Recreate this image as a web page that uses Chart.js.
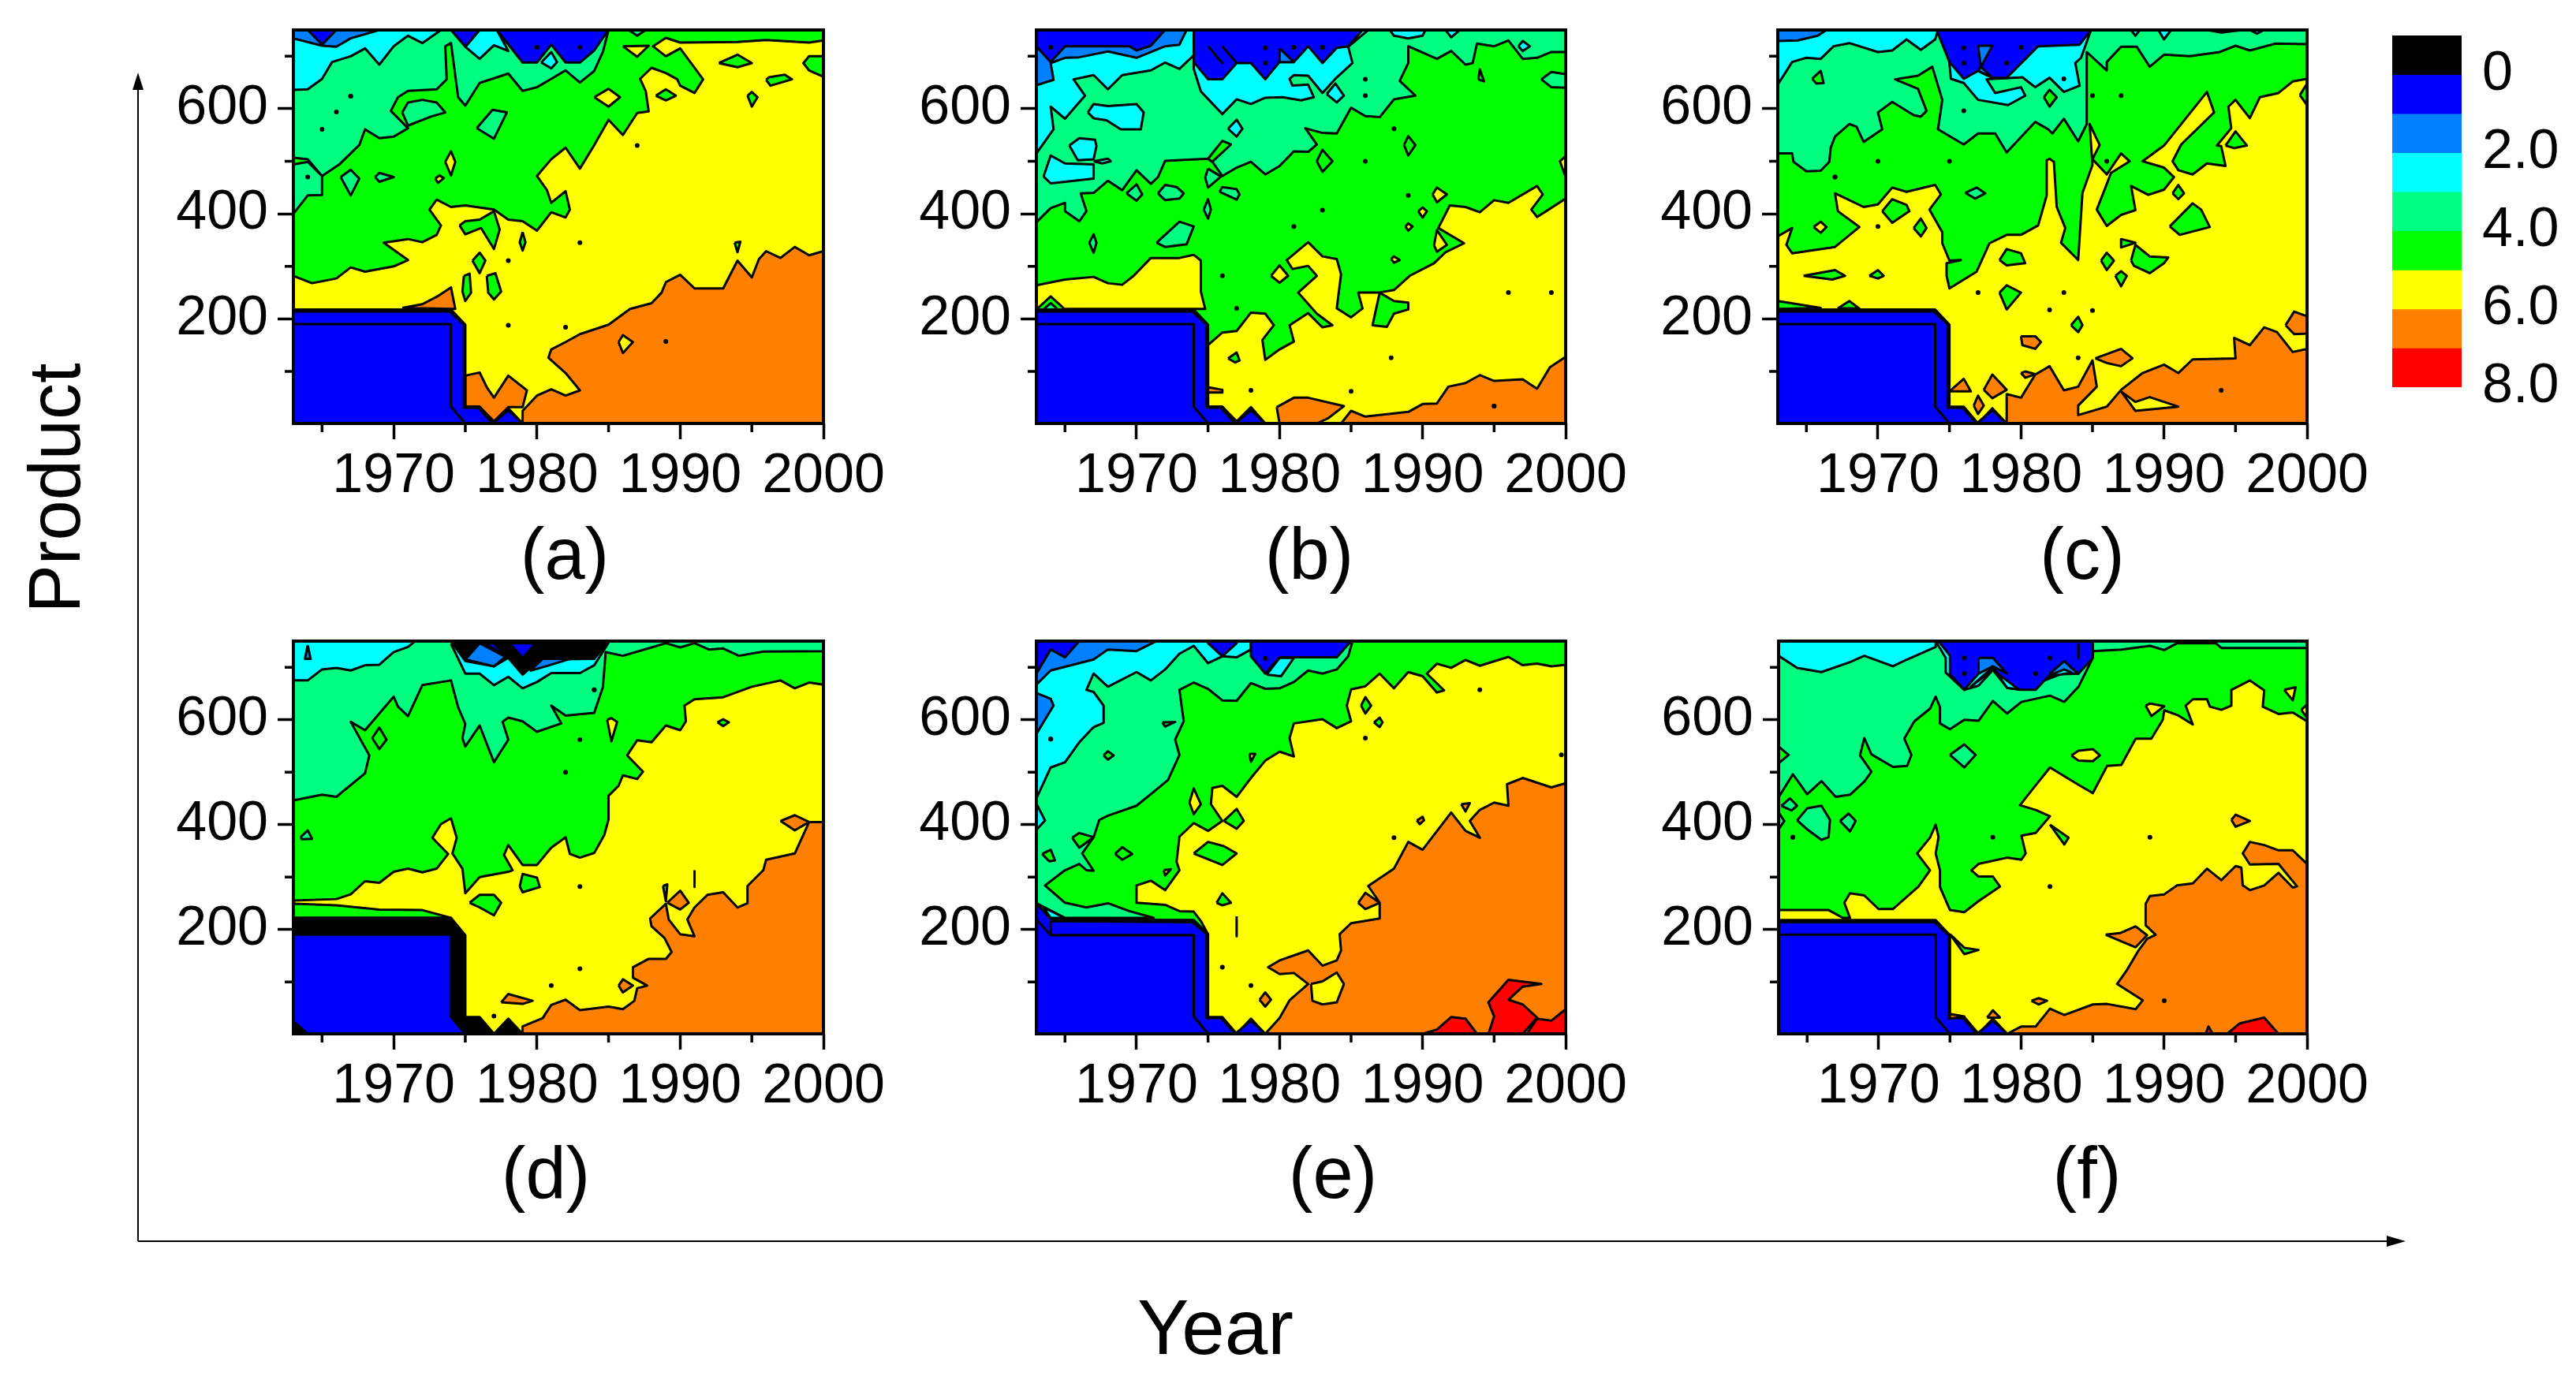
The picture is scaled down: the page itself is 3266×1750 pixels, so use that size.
<!DOCTYPE html>
<html>
<head>
<meta charset="utf-8">
<title>Product / Year contour panels</title>
<script src="https://cdn.jsdelivr.net/npm/chart.js@4"></script>
<style>
  html, body { margin: 0; background: #fff; }
  #page { position: relative; width: 3266px; height: 1750px; overflow: hidden; font-family: "Liberation Sans", Arial, sans-serif; color: #000; }
  #page canvas { position: absolute; }
  .lbl { position: absolute; transform: translate(-50%, -50%); white-space: nowrap; line-height: 1; }
  .panel-lbl { font-size: 92px; }
  .axis-lbl { font-size: 92px; }
  #arrows { position: absolute; left: 0; top: 0; }
</style>
</head>
<body>
<div id="page">
  <svg id="arrows" width="3266" height="1750">
    <path d="M175 1574 V100 M175 1574 H3040" stroke="#000" stroke-width="2" fill="none"/>
    <path d="M175 92 L168 114 H182 Z M3050 1574 L3026 1567 V1581 Z" fill="#000"/>
  </svg>
  <div class="lbl axis-lbl" style="left:69px;top:619px;transform:translate(-50%,-50%) rotate(-90deg)">Product</div>
  <div class="lbl axis-lbl" style="left:1541px;top:1683px;font-size:98px">Year</div>
</div>
<script>
// Escala de color (z): una banda por nivel
const LEVEL_COLORS = ['#000000', '#0000ff', '#0080ff', '#00ffff', '#00ff80', '#00ff00', '#ffff00', '#ff8000', '#ff0000'];
const LEGEND_TICKS = [0, 2, 4, 6, 8];

const YEAR_MIN = 1963, YEAR_MAX = 2000, PRODUCT_MIN = 1, PRODUCT_MAX = 750;
const YEAR_TICKS = [1970, 1980, 1990, 2000];
const YEAR_MINOR = [1965, 1975, 1985, 1995];
const PRODUCT_TICKS = [200, 400, 600];
const PRODUCT_MINOR = [100, 300, 500, 700];

const fullFrame = [1963,1, 2000,1, 2000,750, 1963,750];

// Zona sin datos (compartida por los paneles)
const blockOuter = [1963,218, 1974,218, 1975,189, 1975,33, 1976,33, 1977,1, 1978,30, 1979,1, 1963,1];
const blockEdge = [1963,214, 1973.9,214, 1974.9,189, 1974.9,31, 1975.9,31, 1976.9,1, 1978,26, 1979,1, 1963,1];
const blockInner = [1963,190, 1974,190, 1974,33, 1975,1, 1963,1];

/* ============================
        PANEL (a)  [nivel, x,y, x,y...]
============================ */
const bandsA = [
  [6, fullFrame],
  [5, [1963,282, 1964.3,268, 1966,277, 1967,298, 1968,290, 1970,300, 1971,312, 1969.3,345, 1971,352, 1972,346, 1973,360, 1973.3,378, 1972.5,408, 1973,427, 1974,413, 1975,416, 1977,408, 1978,389, 1979,386, 1980,368, 1981,403, 1982,393, 1982.3,408, 1982,443, 1981,421, 1980.7,445, 1980,472, 1981,504, 1982,526, 1983,486, 1984,531, 1985,579, 1986,550, 1987,592, 1987.8,595, 1987.6,633, 1987.2,657, 1988,678, 1989,668, 1989.8,656, 1990,644, 1991,630, 1991.6,656, 1990,715, 1989,700, 1988.1,719, 1989,735, 1990,726, 1994,727, 1996,731, 1999,726, 2000,730, 2000,750, 1963,750]],
  [4, [1963,400, 1964,435, 1965,436, 1965,472, 1966.2,494, 1967.6,531, 1968,561, 1969,544, 1970,547, 1971,563, 1969.8,596, 1970.3,622, 1971,634, 1973,637, 1973.7,656, 1973.6,719, 1974,725, 1974.5,622, 1975,606, 1976,649, 1978,667, 1979,634, 1980,641, 1981,657, 1982,673, 1983,650, 1984,672, 1984.6,708, 1985,750, 1963,750]],
  [5, [1963,507, 1964,504, 1965,472, 1964,499, 1963,494]],
  [4, [1970.6,593, 1971,612, 1972,617, 1973,612, 1973.6,593, 1972.6,585, 1971,568]],
  [4, [1975.8,563, 1976.9,598, 1977.9,593, 1977,543]],
  [4, [1966.3,470, 1967,484, 1967.6,467, 1967,435]],
  [4, [1968.7,470, 1969,478, 1970,470, 1969,461]],
  [6, [1973.6,499, 1974,519, 1974.3,499, 1974,473]],
  [6, [1972.9,467, 1973.2,473, 1973.5,468, 1973.1,459]],
  [6, [1984,622, 1985,638, 1985.8,622, 1985,604]],
  [6, [1986,719, 1987.8,720, 1987,699]],
  [4, [1986.4,750, 1987,739, 1987.6,750]],
  [5, [1988.3,625, 1989,637, 1989.7,625, 1989,616]],
  [5, [1992.7,687, 1994,703, 1995,687, 1994,679]],
  [5, [2000,700, 1999,700, 1998.6,687, 1999,673, 2000,661]],
  [5, [1996,655, 1996.2,660, 1997.3,665, 1997.8,656, 1996.3,644]],
  [5, [1994.7,625, 1995,632, 1995.4,622, 1995,604]],
  [5, [1974.6,378, 1975,386, 1976,389, 1977,405, 1977.4,370, 1977,333, 1976.1,373, 1975,361]],
  [5, [1979,365, 1979.2,346, 1979,330, 1978.8,346]],
  [5, [1975.5,311, 1976,326, 1976.4,311, 1976,287]],
  [5, [1974.9,282, 1975.3,286, 1975.4,250, 1975,234, 1974.8,252]],
  [5, [1976.5,282, 1977.1,287, 1977.5,252, 1977,237, 1976.6,250]],
  [5, [1993.8,345, 1994.2,347, 1994,327]],
  [3, [1963,636, 1964,637, 1965,657, 1965.7,689, 1967,700, 1968,715, 1969,684, 1970,719, 1971,739, 1972,725, 1973.3,750, 1963,750]],
  [3, [1976,750, 1975,718, 1976,695, 1977,721, 1978,710, 1977.2,750]],
  [2, [1963,734, 1965,720, 1966,718, 1967,734, 1969,750, 1963,750]],
  [1, [1964,750, 1965,722, 1966,750]],
  [1, [1974,750, 1975,718, 1976,750]],
  [1, [1977.2,750, 1979,688, 1980,688, 1981,722, 1982,688, 1983,688, 1984,711, 1985,750]],
  [3, [1980.3,688, 1981,708, 1981.4,689, 1981,677]],
  [7, [1979,1, 1979,25, 1980,54, 1981,66, 1982,54, 1983,64, 1982,97, 1980.8,126, 1981,142, 1982,156, 1983,171, 1985,189, 1986.5,219, 1988,230, 1988.7,250, 1989,270, 1990,284, 1991,258, 1993,258, 1994,311, 1995,279, 1995.5,314, 1996,329, 1997,316, 1998,337, 1999,321, 2000,329, 2000,1]],
  [6, [1985.7,156, 1986,169, 1986.7,156, 1986,135]],
  [7, [1970.6,221, 1972,228, 1973,242, 1974,260, 1974.3,219]],
  [7, [1975,92, 1976,98, 1976.5,70, 1977,50, 1978,92, 1979.3,64, 1979,32, 1978,32, 1977,5, 1976,33, 1975,33]],
  [1, blockOuter], [1, blockEdge], [1, blockInner]
];
const dotsA = [1967,624, 1966,594, 1965,561, 1964,470, 1978,311, 1983,345, 1987,530, 1989,157, 1978,188, 1982,184, 1980,717, 1983,717];

/* ============================
        PANEL (b)
============================ */
const bandsB = [
  [5, fullFrame],
  [6, [1975,150, 1976,174, 1977,177, 1978,212, 1979,210, 1979.6,188, 1978.8,160, 1979,122, 1980,142, 1981,157, 1980.7,188, 1982,211, 1983,184, 1983.7,188, 1982.6,210, 1981.3,250, 1982.6,282, 1982,301, 1980.9,295, 1980.5,312, 1982,346, 1983,319, 1984,314, 1984.3,285, 1984,220, 1985,203, 1985.8,220, 1985.5,250, 1986.9,250, 1988,255, 1989.1,282, 1990.8,306, 1991.6,327, 1992.9,344, 1991.1,373, 1991.9,416, 1993,413, 1994,403, 1995,426, 1996,421, 1998,453, 1998.4,437, 1997.6,408, 1998,394, 2000,429, 2000,1, 1979,1, 1978,32, 1977,5, 1976,33, 1975,33]],
  [6, [1963,264, 1965,275, 1967,280, 1968,268, 1969,265, 1969.8,282, 1971,316, 1973,316, 1974,322, 1974.5,311, 1974.5,252, 1974.8,219, 1963,219]],
  [5, [1963,218, 1964,243, 1965,218]],
  [4, [1963.5,218, 1964,230, 1964.5,218]],
  [5, [1987,250, 1988,234, 1989,231, 1989,218, 1988,210, 1987.5,185, 1986.5,188]],
  [5, [1976.4,125, 1977,136, 1977.2,121, 1976.9,117]],
  [6, [1990.8,340, 1991,369, 1991.7,341, 1991,328]],
  [6, [1979.4,282, 1980,302, 1980.6,282, 1980,269]],
  [6, [1990.7,437, 1991,450, 1991.7,437, 1991,422]],
  [6, [1989.7,405, 1990,412, 1990.3,405, 1990,393]],
  [6, [1988.8,376, 1989,382, 1989.3,376, 1989,368]],
  [6, [1987.8,314, 1988,319, 1988.4,312, 1988,307]],
  [6, [2000,510, 1999.6,500, 2000,470]],
  [7, [1975,70, 1976,65, 1976,60, 1975,60]],
  [7, [1979.8,32, 1981,50, 1982,50, 1984.5,34, 1983.4,11, 1982.6,1, 1980,1]],
  [7, [1984.3,1, 1985,25, 1986,14, 1989,23, 1990,38, 1991,39, 1991.8,71, 1993,78, 1994,93, 1995,82, 1997,85, 1998,67, 1998.9,108, 2000,128, 2000,1]],
  [4, [1963,384, 1964,411, 1965,421, 1965,405, 1966,386, 1966.5,405, 1966.1,439, 1967,440, 1968,463, 1969,445, 1970,483, 1971,457, 1971.5,470, 1972,501, 1975,505, 1975.3,499, 1976,472, 1977,488, 1978,499, 1979,475, 1980,491, 1981,519, 1982,518, 1982.6,532, 1981.8,563, 1983,554, 1984,553, 1985,602, 1986,586, 1987,584, 1988,618, 1989.5,625, 1988.4,653, 1989,687, 1989,719, 1991,695, 1992,710, 1993,684, 1993.5,687, 1993.8,724, 1995,719, 1996,730, 1997,695, 1998,697, 1999,708, 2000,708, 2000,750, 1963,750]],
  [5, [1975,505, 1976,539, 1976.6,532, 1975.3,499]],
  [4, [1975,486, 1975.9,471, 1975,450, 1974.8,469]],
  [4, [1969.3,439, 1970,456, 1970.4,437, 1970,425]],
  [4, [1971.5,439, 1972,455, 1972.8,451, 1973.3,439, 1973,429, 1972,426]],
  [4, [1975.8,442, 1976,451, 1977,447, 1977.2,437, 1977,427]],
  [4, [1974.7,408, 1975,428, 1975.2,408, 1975,391]],
  [4, [1971.4,345, 1973,385, 1974,376, 1973.5,342, 1972,337]],
  [4, [1966.7,345, 1967,361, 1967.2,345, 1967,326]],
  [5, [1982.6,500, 1983,522, 1983.7,500, 1983,480]],
  [5, [1988.7,531, 1989,548, 1989.5,531, 1989,511]],
  [5, [1993.9,656, 1994,675, 1994.3,652]],
  [4, [1998.3,656, 1999,670, 2000,666, 2000,640, 1999,641]],
  [3, [1963,515, 1964.2,561, 1964,604, 1965,581, 1966.4,625, 1965.6,656, 1967,664, 1968,637, 1969,664, 1971,673, 1972,688, 1973,676, 1974,702, 1974,750, 1963,750]],
  [2, [1963,645, 1964.2,655, 1964,687, 1965,697, 1966,698, 1968,709, 1970,697, 1972,719, 1973,722, 1973.5,750, 1963,750]],
  [1, [1963,719, 1964,689, 1965,719, 1969.5,719, 1970,711, 1971,720, 1972,750, 1963,750]],
  [3, [1966.6,593, 1967,609, 1968,605, 1970,609, 1970.5,593, 1970.3,561, 1968.9,561, 1967.9,578, 1967,582]],
  [3, [1965.3,530, 1966,544, 1967.1,541, 1967.2,529, 1967,504, 1965.9,502]],
  [3, [1963.5,471, 1964,511, 1965,496, 1967,494, 1967,467, 1964,458]],
  [3, [1967,500, 1968,505, 1968.2,500, 1967.6,496]],
  [3, [1976.4,562, 1977,579, 1977.4,562, 1977,547]],
  [3, [1983.3,628, 1983.9,648, 1984.5,625, 1984,612]],
  [3, [1974,702, 1974,676, 1974.5,633, 1976,590, 1977,618, 1978,609, 1979,621, 1980.2,622, 1981.5,616, 1982.4,622, 1982,646, 1980.9,644, 1980.7,657, 1981,664, 1982,663, 1983,630, 1983.9,657, 1985.1,687, 1984.8,718, 1986.2,750, 1974,750]],
  [1, [1974,750, 1974,689, 1975,656, 1976,656, 1977,687, 1978,687, 1979,656, 1980,689, 1981,689, 1982,719, 1983,687, 1984,716, 1984.8,719, 1985.8,750]],
  [2, [1980,715, 1981,689, 1980,689]],
  [1, [1975,719, 1976,687]],
  [1, [1976,719, 1977,687]],
  [3, [1987.7,750, 1988,739, 1989,734, 1990,739, 1990.2,750]],
  [3, [1991.6,750, 1992,736, 1992.6,750]],
  [3, [1996.7,719, 1997,729, 1997.5,719, 1997,710]],
  [1, blockOuter], [1, blockEdge], [1, blockInner]
];
const dotsB = [1995,34, 1996,250, 1999,250, 1978,64, 1985,62, 1987.8,126, 1977,220, 1986,500, 1976,282, 1981,376, 1983,407, 1988,562, 1989,435, 1979,716, 1979,687, 1981,717, 1983,717, 1964,717, 1986,656, 1986,625];

/* ============================
        PANEL (c)
============================ */
const bandsC = [
  [6, fullFrame],
  [5, [1963,357, 1964,373, 1963.6,341, 1964,325, 1967,337, 1968.7,375, 1967.2,405, 1967,439, 1969,413, 1970,418, 1971,450, 1972,442, 1974,455, 1974.4,437, 1973.6,408, 1974.5,365, 1974.5,344, 1975,311, 1975.8,312, 1974.8,306, 1974.8,282, 1975,258, 1976.9,290, 1977.8,344, 1979,360, 1980,360, 1981.2,378, 1981.8,435, 1981.8,502, 1982,505, 1982.3,499, 1982.5,413, 1983.1,373, 1982.8,345, 1984,312, 1984.3,440, 1985,493, 1984.8,571, 1985.5,531, 1985,504, 1986,475, 1987,515, 1987.6,500, 1986.3,478, 1985.3,408, 1986,377, 1987,398, 1988,407, 1987.7,453, 1988.9,436, 1990,446, 1990.7,470, 1990,488, 1988.5,500, 1990,530, 1993,632, 1993.5,593, 1991.2,532, 1990.6,500, 1991,483, 1992,475, 1993,496, 1994.3,491, 1994,529, 1993.7,530, 1994.7,563, 1994.5,604, 1995,617, 1996,582, 1996.7,622, 1998,630, 1999,652, 2000,657, 2000,750, 1963,750]],
  [5, [1963,234, 1964.8,226, 1966,221, 1963,219]],
  [5, [1967.2,220, 1968,234, 1968.7,220]],
  [4, [1963,515, 1964,515, 1964.1,499, 1965,481, 1966,482, 1966.6,499, 1966.7,526, 1967,547, 1968,571, 1968.5,566, 1969,537, 1970.3,561, 1970,593, 1971,613, 1972.5,588, 1973,585, 1973.4,596, 1972.8,638, 1971.2,656, 1972.8,663, 1973.8,680, 1974.5,617, 1974.2,561, 1976,532, 1977,553, 1978.2,553, 1979,517, 1981,575, 1981.9,561, 1982.2,553, 1983,581, 1984,538, 1984.6,571, 1984.6,708, 1986,673, 1986,689, 1987,718, 1988.1,718, 1989,680, 1990,703, 1991.8,700, 1993.9,708, 1995,720, 1996,711, 1997.8,724, 2000,723, 2000,750, 1963,750]],
  [3, [1963,646, 1964,689, 1965,697, 1966,695, 1966.9,719, 1968,725, 1970,708, 1971,711, 1972,732, 1973,712, 1974,732, 1974.2,750, 1963,750]],
  [2, [1963,729, 1964.4,730, 1965.8,739, 1966.4,750, 1963,750]],
  [3, [1974.1,750, 1974.9,716, 1975.1,657, 1976,649, 1977,617, 1979.1,607, 1980.3,625, 1980,641, 1978.2,630, 1977.6,656, 1980.1,660, 1981,641, 1982,659, 1983,632, 1984.1,644, 1983.8,687, 1984.2,697, 1984.9,750]],
  [1, [1974.1,750, 1975,689, 1976,657, 1977,672, 1978,659, 1979,659, 1981.2,719, 1984.1,722, 1984.9,750]],
  [2, [1977,720, 1978,720, 1977.2,680, 1978,659, 1977,672, 1977.2,680]],
  [3, [1987.7,750, 1988,739, 1988.3,750]],
  [3, [1989.6,750, 1990,732, 1990.5,750]],
  [3, [1993,750, 1994,745, 1995.5,750]],
  [3, [1996,750, 1996.5,743, 1997,750]],
  [5, [1965.4,657, 1966,672, 1966.2,649, 1965.7,648]],
  [5, [1981.6,622, 1982,636, 1982.5,622, 1982,604]],
  [4, [1976.1,440, 1976.9,450, 1977.5,439, 1976.8,429]],
  [5, [1970.3,405, 1971,428, 1972,417, 1972.2,405, 1971,383]],
  [5, [1972.5,373, 1973,391, 1973.4,373, 1973,357]],
  [6, [1965.5,375, 1966,385, 1966.4,375, 1966,364]],
  [5, [1964.8,282, 1967,293, 1967.7,282, 1966.8,275]],
  [5, [1969.4,282, 1970,293, 1970.4,282, 1970,277]],
  [5, [1978.5,312, 1979,333, 1980,325, 1980.3,306, 1979,302]],
  [5, [1978.5,250, 1979,264, 1980,250, 1979,218]],
  [5, [1983.5,188, 1984,204, 1984.3,188, 1984,175]],
  [5, [1987,344, 1987,352, 1988,345, 1987,336]],
  [5, [1987.7,311, 1988,341, 1989,319, 1990.3,317, 1990,306, 1989,287, 1987.9,301]],
  [5, [1985.6,311, 1986,326, 1986.5,311, 1986,293]],
  [5, [1986.6,282, 1987,291, 1987.4,282, 1987,262]],
  [5, [1990.4,376, 1992,420, 1992.6,408, 1993.2,375, 1991.1,360]],
  [5, [1990.6,439, 1991,455, 1991.4,439, 1991,428]],
  [5, [1994.3,530, 1995,557, 1995.8,530, 1994.9,525]],
  [5, [1999.5,626, 2000,648, 2000,607]],
  [7, [1979,1, 1979,57, 1980,50, 1981,94, 1982,110, 1983,64, 1984,71, 1985,121, 1985.3,71, 1984,35, 1984,17, 1986,33, 1987,65, 1988.5,97, 1990,113, 1991,97, 1992,123, 1995,125, 1994.9,164, 1996,150, 1997,184, 1997.9,175, 1999,137, 2000,143, 2000,1]],
  [6, [1987,62, 1988,25, 1991,33, 1989,51, 1988,42]],
  [7, [1998.5,188, 1999.1,214, 2000,205, 2000,172, 1999.1,171]],
  [7, [1985.2,125, 1987,143, 1987.8,125, 1987,110, 1986,116]],
  [7, [1980,167, 1981,167, 1981.4,156, 1981,143, 1980.1,150]],
  [7, [1980,97, 1980.3,100, 1981,95, 1980.3,88]],
  [7, [1975,62, 1976,86, 1976.5,62]],
  [7, [1977.4,65, 1978,94, 1979,65, 1978,49]],
  [7, [1976.7,35, 1977,54, 1977.4,35, 1977,19]],
  [1, blockOuter], [1, blockEdge], [1, blockInner]
];
const dotsC = [1967,470, 1970,500, 1975,500, 1976,596, 1983,657, 1985,625, 1987,625, 1986,500, 1977,250, 1983,250, 1982,217, 1985,216, 1984,126, 1994,64, 1970,376, 1976,716, 1976,687, 1980,717, 1979,687];

/* ============================
        PANEL (d)
============================ */
const bandsD = [
  [6, fullFrame],
  [5, [1963,255, 1966,258, 1967,267, 1968,292, 1969,289, 1970,310, 1971,316, 1972,309, 1973,316, 1973.8,344, 1972.7,375, 1973.3,401, 1974,412, 1974.4,375, 1974.1,345, 1974.8,316, 1975,269, 1976,300, 1978,310, 1978.3,313, 1977.7,342, 1978,361, 1979,323, 1980,323, 1981,356, 1982,376, 1982.3,344, 1983,337, 1984,346, 1984.7,380, 1985,410, 1985,455, 1985.7,474, 1986,494, 1987,487, 1987.4,501, 1986.3,532, 1987,561, 1988,557, 1989,589, 1990,580, 1990.4,597, 1990.3,627, 1991,639, 1993,643, 1995,663, 1997,675, 1998,660, 1999,671, 2000,667, 2000,750, 1963,750]],
  [5, [1963,249, 1966,246, 1969,238, 1972,237, 1974,222, 1963,222]],
  [4, [1963,446, 1965,457, 1966,453, 1968,498, 1968.3,532, 1967,596, 1968,580, 1970,644, 1970.3,625, 1971,607, 1972,666, 1974,675, 1974.5,624, 1975,592, 1974.8,565, 1975,549, 1976,589, 1977,519, 1978,562, 1977.6,596, 1978,604, 1979,597, 1980,577, 1981.7,593, 1981,627, 1982,608, 1984,613, 1984.6,662, 1984.8,729, 1986,722, 1988,738, 1989,746, 1990,738, 1991,746, 1992,734, 1993,736, 1994.1,722, 1995.8,730, 2000,731, 2000,750, 1963,750]],
  [5, [1968.5,565, 1969,585, 1969.5,562, 1969,544]],
  [3, [1963,675, 1964,675, 1965,696, 1966,699, 1967,694, 1968,704, 1969,705, 1970,729, 1971,739, 1971.5,750, 1963,750]],
  [2, [1964,742, 1964.2,716, 1963.8,716]],
  [3, [1974,745, 1975,688, 1976,688, 1977,666, 1978,682, 1979,660, 1980,672, 1981,689, 1983,689, 1984,704, 1985,747]],
  [0, [1974,750, 1975,712, 1977,702, 1978,718, 1979,686, 1980.2,715, 1984,716, 1985,750]],
  [2, [1975,715, 1976,746, 1977.8,720, 1977,702]],
  [2, [1979.5,693, 1980.4,716, 1982.3,716, 1981,705]],
  [1, [1976.4,746, 1977,746, 1977.8,721]],
  [1, [1978.1,746, 1979.9,746, 1979,718]],
  [6, [1984.9,600, 1985.2,603, 1985.6,596, 1985.2,559]],
  [5, [1992.6,595, 1993,601, 1993.4,595, 1993,588]],
  [4, [1963.5,376, 1964,389, 1964.3,373, 1963.6,372]],
  [5, [1978.8,282, 1979,306, 1980,299, 1980.2,281, 1979,271]],
  [5, [1975.3,251, 1976,266, 1977,266, 1977.5,251, 1977,227, 1976,242]],
  [5, [1988.8,283, 1989.1,286, 1989,254]],
  [5, [1991,313, 1991,281]],
  [7, [1979,1, 1979,15, 1980.4,31, 1981,56, 1982,66, 1983,46, 1985,53, 1986,48, 1986.8,64, 1987,88, 1987.7,93, 1986.7,108, 1986.7,128, 1987.8,144, 1989,144, 1989.4,157, 1988.9,184, 1988,206, 1987.9,221, 1989,249, 1989.2,219, 1990,191, 1991,187, 1990.5,219, 1991,242, 1991.9,266, 1993,271, 1994,242, 1994.7,250, 1994.7,283, 1995.8,313, 1996,333, 1998,345, 1999,405, 2000,405, 2000,1]],
  [7, [1977.5,61, 1978,77, 1979.7,64, 1979,58]],
  [7, [1985.7,93, 1986,105, 1986.7,93, 1986,80]],
  [7, [1997,407, 1998,418, 1999,405, 1998,389]],
  [7, [1989.1,251, 1990,274, 1990.6,251, 1990,238]],
  [0, [1963,222, 1974,222, 1975,189, 1975,33, 1976,33, 1977,1, 1978,30, 1979,1, 1963,1]],
  [1, [1963,190, 1974,190, 1974,33, 1975,1, 1964,1, 1963,25]]
];
const dotsD = [1984,657, 1983,562, 1982,500, 1983,282, 1983,125, 1981,93, 1977,35];

/* ============================
        PANEL (e)
============================ */
const bandsE = [
  [6, fullFrame],
  [5, [2000,705, 1999,702, 1998,707, 1997,704, 1996,720, 1994,703, 1993,714, 1992,699, 1991,707, 1990.3,688, 1991.5,656, 1991,652, 1990,683, 1989,691, 1988,660, 1987,688, 1986,664, 1985,658, 1984.7,627, 1985,597, 1984,584, 1983,601, 1981,593, 1980.7,565, 1981,530, 1980,539, 1979,522, 1978,489, 1977,453, 1976,474, 1975.3,470, 1975.2,439, 1976,407, 1975,388, 1974,403, 1973,377, 1972.8,329, 1973,313, 1972,275, 1971,293, 1970,284, 1970,251, 1972,247, 1973,235, 1974,234, 1974.5,216, 1975,191, 1974,218, 1963,218, 1963,750, 2000,750]],
  [4, [1985.1,750, 1984.8,721, 1984,696, 1983,688, 1982,694, 1981,672, 1980,660, 1979,659, 1978,670, 1977,636, 1976,637, 1975,659, 1974,671, 1973,657, 1973.3,597, 1972.7,562, 1973,533, 1972.2,485, 1971,458, 1970,436, 1968,417, 1967.4,409, 1967,376, 1966.2,345, 1967,312, 1966.5,313, 1966,325, 1965,313, 1963.6,284, 1965,251, 1966.5,242, 1968,250, 1969.5,235, 1971.2,222, 1965,222, 1963,250, 1963,750]],
  [3, [1963,450, 1964,509, 1965,519, 1966,557, 1967,586, 1967.7,594, 1967.7,627, 1967,653, 1966.5,657, 1967,688, 1968,663, 1970,691, 1971,675, 1972,696, 1973,726, 1974,741, 1975,708, 1976,721, 1977,719, 1978,734, 1978,750, 1963,750]],
  [3, [1963,390, 1963.6,408, 1963,440]],
  [3, [1963.5,242, 1964,222, 1965,222]],
  [1, [1975,746, 1976,721, 1977,746, 1977,750, 1975,750]],
  [1, [1978,750, 1978,721, 1979,688, 1980,719, 1984,719, 1985,750]],
  [3, [1979.1,686, 1980,718, 1981,718, 1980.1,683]],
  [2, [1963,667, 1964,694, 1967,715, 1968,734, 1970,731, 1971.4,750, 1963,750]],
  [2, [1963,573, 1964.2,627, 1964,640, 1963,651]],
  [1, [1963,688, 1964,734, 1965,719, 1966,750, 1963,750]],
  [5, [1963.4,344, 1964,352, 1964.3,332, 1963.9,330]],
  [5, [1965.5,375, 1966,384, 1967,376, 1966,356]],
  [5, [1968.5,344, 1969,357, 1969.7,344, 1969,333]],
  [5, [1971.8,595, 1972.7,596, 1972,587]],
  [5, [1967.7,532, 1968,540, 1968.4,532, 1968,524]],
  [6, [1973.7,442, 1974,469, 1974.5,439, 1974,420]],
  [6, [1977.9,535, 1978.3,535, 1978,520]],
  [6, [1971.9,313, 1972.4,315, 1972,303]],
  [5, [1985.7,627, 1986,643, 1986.4,627, 1986,612]],
  [5, [1986.6,595, 1987,604, 1987.2,595, 1987,586]],
  [5, [1976.1,407, 1977,430, 1977.5,407, 1977,392]],
  [5, [1974,345, 1975,367, 1976.1,359, 1977,345, 1976,323]],
  [5, [1975.6,251, 1976,269, 1976.6,251, 1976,246]],
  [7, [1977,225, 1977,187]],
  [7, [1992.7,439, 1993.3,441, 1993,425]],
  [7, [1989.6,408, 1990,415, 1990.1,408, 1989.8,401]],
  [7, [1996.5,375, 1996.8,380, 1997,373]],
  [7, [1985.5,251, 1986,270, 1987,251, 1986,239]],
  [7, [1978.6,66, 1979,80, 1979.4,66, 1979,53]],
  [7, [1979,1, 1980,31, 1980.7,65, 1982,96, 1981,117, 1980,115, 1979.2,128, 1980,141, 1982,160, 1983,131, 1984,141, 1984.3,160, 1984.2,191, 1985,212, 1987,221, 1987,251, 1986.2,283, 1988,316, 1989,367, 1990,352, 1992,423, 1993,388, 1994,375, 1993.3,407, 1994,428, 1995,442, 1996,436, 1995.9,477, 1997,489, 1999,471, 2000,479, 2000,1]],
  [6, [1982.2,96, 1983,101, 1984,118, 1984.5,96, 1984,61, 1983,57, 1982.3,64]],
  [8, [1990,1, 1991,9, 1992,33, 1993,30, 1993.8,1]],
  [8, [1994.6,1, 1995,34, 1994.6,61, 1996,104, 1998.3,96, 1997,91, 1996,66, 1997,57, 1998,32, 1997,1]],
  [8, [1997.3,1, 1998,30, 1999,26, 2000,48, 2000,1]],
  [1, [1963,250, 1964,220, 1974,218, 1975,191, 1975,33, 1976,33, 1977,1, 1978,30, 1979,1, 1963,1]],
  [1, [1964,216, 1973.9,214, 1974.9,191, 1974.9,31, 1975.9,31, 1976.9,1, 1978,26, 1979,1, 1975,1, 1974,34, 1974,189, 1964,189]],
  [1, [1963,219, 1964,189, 1974,189, 1974,34, 1975,1, 1963,1]]
];
const dotsE = [1964,563, 1986,565, 1994,657, 1988,375, 1999.7,533, 1976,128, 1978,93, 1979,717];

/* ============================
        PANEL (f)
============================ */
const bandsF = [
  [6, fullFrame],
  [5, [2000,597, 1999,614, 1998,611, 1996.9,625, 1997,656, 1996,675, 1994.7,657, 1994.7,627, 1994,619, 1993.2,625, 1993,639, 1992,639, 1991.5,627, 1992,591, 1991,608, 1990,618, 1989.9,600, 1989.1,564, 1988,564, 1987,514, 1986,512, 1985,460, 1984,476, 1982,509, 1981,475, 1979.9,437, 1981,428, 1982,416, 1981,384, 1980,379, 1980.3,345, 1980,333, 1979,337, 1977,325, 1976.5,313, 1977,301, 1978,301, 1978.5,282, 1977,254, 1976,233, 1975,237, 1974.3,281, 1974.3,313, 1974,345, 1974.2,376, 1974,400, 1973.6,375, 1972.7,345, 1973.6,313, 1972.8,282, 1971,239, 1970,239, 1969,265, 1968,269, 1967.6,251, 1968,222, 1967.5,222, 1966.5,237, 1963,237, 1963,750, 2000,750]],
  [4, [1963,452, 1964,496, 1965,458, 1966,483, 1967,453, 1968,457, 1969,482, 1969.5,501, 1968.7,532, 1969,565, 1969.5,534, 1971,510, 1972,512, 1972.3,533, 1971.8,564, 1972.5,597, 1973.6,621, 1974,644, 1974.3,624, 1974.3,593, 1975,582, 1976,600, 1977,598, 1978,636, 1979,612, 1980,634, 1982,646, 1983,634, 1984,663, 1985,718, 1985,731, 1987,734, 1989,741, 1990,733, 1990.9,746, 1993.6,746, 1994,737, 2000,737, 2000,750, 1963,750]],
  [5, [1963,549, 1963.7,533, 1963,517]],
  [4, [1975,533, 1976,553, 1976.8,533, 1976,509]],
  [4, [1963.2,436, 1963.8,450, 1964.3,436, 1963.9,427]],
  [4, [1964.3,408, 1965,431, 1966,436, 1966.6,409, 1966.5,376, 1966,371, 1965,391]],
  [4, [1967.3,407, 1967.9,421, 1968.4,407, 1968,387]],
  [4, [1963,423, 1963.4,407, 1963,391]],
  [6, [1983.5,532, 1984,541, 1985,544, 1985.5,532, 1985,521, 1984,522]],
  [6, [1988.7,627, 1989,631, 1990,626, 1989.1,607]],
  [6, [1998.4,657, 1999.2,662, 1999,637]],
  [6, [1999.6,619, 2000,629, 2000,603]],
  [5, [1982,400, 1983.3,375, 1983,362]],
  [5, [1975,191, 1976,165, 1977,161, 1976,153]],
  [3, [1963,722, 1964.3,699, 1966,691, 1968,710, 1969,722, 1971,702, 1972,715, 1974,739, 1974,750, 1963,750]],
  [3, [1974,750, 1974.7,718, 1974.7,690, 1976,657, 1977,665, 1978,695, 1979,661, 1980,658, 1984,700, 1985,750]],
  [1, [1974.2,750, 1975,722, 1975,687, 1976,657, 1977,688, 1978,702, 1979,661, 1980,657, 1981,657, 1982,686, 1984,688, 1985,718, 1985,750]],
  [2, [1977,718, 1978,718, 1979,688, 1978,702, 1977,688]],
  [3, [1976.4,662, 1978,695, 1979.8,658, 1979,661, 1978,700]],
  [2, [1982,688, 1983,712, 1983.5,699, 1984,688]],
  [3, [1981.9,684, 1983,696, 1983.5,690, 1982,683]],
  [1, [1984,745, 1984,718]],
  [7, [1979,1, 1980,15, 1981,15, 1982,49, 1983,37, 1985,57, 1986,58, 1988,48, 1988.5,65, 1986.7,96, 1987.4,123, 1988.2,160, 1988.8,182, 1989.4,190, 1988.7,208, 1988.7,249, 1989,264, 1990,267, 1990.9,284, 1992,288, 1993,316, 1994,294, 1995,321, 1995.4,318, 1995.5,284, 1996,275, 1997,284, 1998,308, 1999,280, 1999.3,282, 1998,325, 1996,324, 1995.5,345, 1996,367, 1997,361, 1998,351, 1999,351, 2000,325, 2000,1]],
  [7, [1985.9,190, 1986.9,193, 1988,206, 1988.8,189, 1988,166]],
  [7, [1994.7,409, 1995,419, 1996,407, 1995,396]],
  [7, [1980.7,64, 1981.2,69, 1981.8,64, 1981.2,57]],
  [7, [1977.6,32, 1978,46, 1978.5,32]],
  [8, [1994.4,1, 1995.3,21, 1997,32, 1998,1]],
  [8, [1992.9,1, 1993.1,15, 1993.4,1]],
  [1, blockOuter], [1, blockEdge], [1, blockInner],
  [7, [1975,39, 1976,34, 1975,30]]
];
const dotsF = [1964,376, 1978,376, 1989,376, 1982,282, 1990,64, 1976,718, 1982,718, 1976,688, 1981,688];

// Paneles: posición en la página y datos
const panels = [
  { id: 'a', left: 372,  top: 38,  right: 1044, bottom: 537,  bands: bandsA, dots: dotsA, lx: 716,  ly: 702 },
  { id: 'b', left: 1314, top: 38,  right: 1985, bottom: 537,  bands: bandsB, dots: dotsB, lx: 1660, ly: 702 },
  { id: 'c', left: 2254, top: 38,  right: 2925, bottom: 537,  bands: bandsC, dots: dotsC, lx: 2640, ly: 702 },
  { id: 'd', left: 372,  top: 813, right: 1044, bottom: 1311, bands: bandsD, dots: dotsD, lx: 692,  ly: 1487 },
  { id: 'e', left: 1314, top: 813, right: 1985, bottom: 1311, bands: bandsE, dots: dotsE, lx: 1690, ly: 1487 },
  { id: 'f', left: 2255, top: 813, right: 2925, bottom: 1311, bands: bandsF, dots: dotsF, lx: 2646, ly: 1487 }
];

const PAD_LEFT = 190, PAD_RIGHT = 90, PAD_TOP = 12, PAD_BOTTOM = 110;
const TICK_FONT = { family: '"Liberation Sans", Arial, sans-serif', size: 70 };

function toPoints(flat) {
  const pts = [];
  for (let i = 0; i < flat.length; i += 2) pts.push({ x: flat[i], y: flat[i + 1] });
  pts.push({ x: flat[0], y: flat[1] }); // cierra el contorno
  return pts;
}

// Chart.js reserva sitio para media etiqueta en los extremos: aquí no hace falta
function fixBox(s, key, size) {
  s[key] = size;
  s.paddingLeft = s.paddingRight = s.paddingTop = s.paddingBottom = 0;
}

// Marco y marcas menores (Chart.js solo tiene una longitud de tick por eje)
const framePlugin = {
  id: 'frame',
  afterDraw(chart) {
    const { ctx, chartArea: a, scales } = chart;
    ctx.save();
    ctx.strokeStyle = '#000';
    ctx.lineWidth = 4;
    ctx.strokeRect(a.left, a.top, a.right - a.left, a.bottom - a.top);
    ctx.lineWidth = 3.5;
    ctx.beginPath();
    YEAR_MINOR.forEach(v => {
      const px = scales.x.getPixelForValue(v);
      ctx.moveTo(px, a.bottom);
      ctx.lineTo(px, a.bottom + 11);
    });
    PRODUCT_MINOR.forEach(v => {
      const py = scales.y.getPixelForValue(v);
      ctx.moveTo(a.left, py);
      ctx.lineTo(a.left - 11, py);
    });
    ctx.stroke();
    ctx.restore();
  }
};

function addCanvas(left, top, width, height) {
  const canvas = document.createElement('canvas');
  canvas.style.left = left + 'px';
  canvas.style.top = top + 'px';
  canvas.style.width = width + 'px';
  canvas.style.height = height + 'px';
  canvas.width = width;
  canvas.height = height;
  document.getElementById('page').appendChild(canvas);
  return canvas;
}

function createPanel(p) {
  const canvas = addCanvas(p.left - PAD_LEFT, p.top - PAD_TOP,
    p.right - p.left + PAD_LEFT + PAD_RIGHT, p.bottom - p.top + PAD_TOP + PAD_BOTTOM);

  const datasets = p.bands.map((b, i) => ({
    data: toPoints(b[1]),
    showLine: true,
    fill: 'shape',
    backgroundColor: LEVEL_COLORS[b[0]],
    borderColor: '#000',
    borderWidth: 3,
    borderJoinStyle: 'round',
    pointRadius: 0,
    order: p.bands.length - i + 1
  }));
  datasets.push({
    data: toPoints(p.dots),
    showLine: false,
    pointRadius: 3,
    pointBackgroundColor: '#000',
    pointBorderWidth: 0,
    order: 0
  });

  new Chart(canvas.getContext('2d'), {
    type: 'scatter',
    data: { datasets },
    options: {
      responsive: false,
      animation: false,
      layout: { padding: { top: PAD_TOP, right: PAD_RIGHT } },
      plugins: { legend: { display: false }, tooltip: { enabled: false } },
      scales: {
        x: {
          type: 'linear',
          min: YEAR_MIN,
          max: YEAR_MAX,
          afterBuildTicks: s => { s.ticks = YEAR_TICKS.map(value => ({ value })); },
          afterFit: s => fixBox(s, 'height', PAD_BOTTOM),
          grid: { drawOnChartArea: false, tickLength: 20, tickWidth: 3.5, tickColor: '#000' },
          border: { display: false },
          ticks: { font: TICK_FONT, color: '#000', padding: 6, maxRotation: 0, autoSkip: false, callback: v => String(v) }
        },
        y: {
          type: 'linear',
          min: PRODUCT_MIN,
          max: PRODUCT_MAX,
          afterBuildTicks: s => { s.ticks = PRODUCT_TICKS.map(value => ({ value })); },
          afterFit: s => fixBox(s, 'width', PAD_LEFT),
          grid: { drawOnChartArea: false, tickLength: 20, tickWidth: 3.5, tickColor: '#000' },
          border: { display: false },
          ticks: { font: TICK_FONT, color: '#000', padding: 12, autoSkip: false, callback: v => String(v) }
        }
      }
    },
    plugins: [framePlugin]
  });

  const label = document.createElement('div');
  label.className = 'lbl panel-lbl';
  label.style.left = p.lx + 'px';
  label.style.top = p.ly + 'px';
  label.textContent = '(' + p.id + ')';
  document.getElementById('page').appendChild(label);
}

function createLegend() {
  const canvas = addCanvas(3033, 35, 233, 510);
  new Chart(canvas.getContext('2d'), {
    type: 'bar',
    data: {
      labels: [''],
      datasets: LEVEL_COLORS.map((c, i) => ({
        data: [[i - 1, i]],
        backgroundColor: c,
        barPercentage: 1,
        categoryPercentage: 1,
        grouped: false
      }))
    },
    options: {
      responsive: false,
      animation: false,
      layout: { padding: { top: 10, bottom: 54 } },
      plugins: { legend: { display: false }, tooltip: { enabled: false } },
      scales: {
        x: { display: false },
        y: {
          position: 'right',
          reverse: true,
          min: -1,
          max: 8,
          afterBuildTicks: s => { s.ticks = LEGEND_TICKS.map(value => ({ value })); },
          afterFit: s => fixBox(s, 'width', 145),
          grid: { display: false },
          border: { display: false },
          ticks: { font: TICK_FONT, color: '#000', padding: 18, autoSkip: false, callback: v => (v === 0 ? '0' : v.toFixed(1)) }
        }
      }
    }
  });
}

panels.forEach(createPanel);
createLegend();
</script>
</body>
</html>
